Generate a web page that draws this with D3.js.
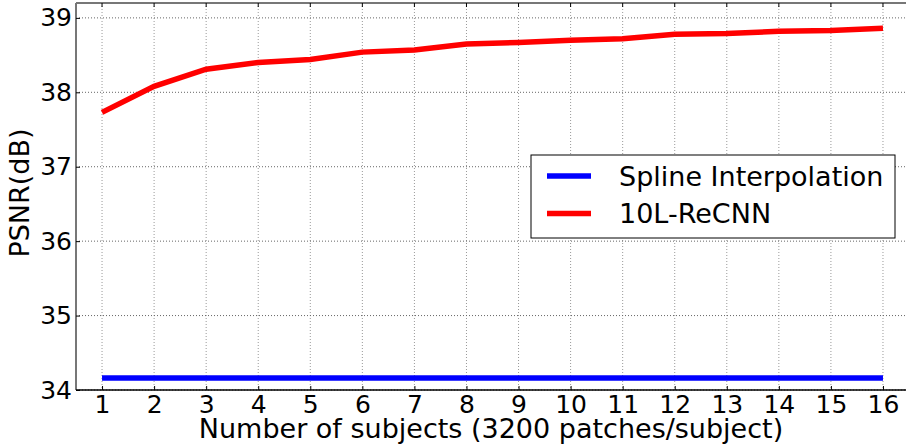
<!DOCTYPE html>
<html>
<head>
<meta charset="utf-8">
<script src="https://cdn.jsdelivr.net/npm/d3@7"></script>
<style>
  body { margin: 0; background: #fff; }
  svg { display: block; font-family: "DejaVu Sans", sans-serif; }
</style>
</head>
<body>
<div id="chart"></div>
<script>
// data
const subjects = [1, 2, 3, 4, 5, 6, 7, 8, 9, 10, 11, 12, 13, 14, 15, 16];
const splinePSNR = [34.16, 34.16, 34.16, 34.16, 34.16, 34.16, 34.16, 34.16,
                    34.16, 34.16, 34.16, 34.16, 34.16, 34.16, 34.16, 34.16];
const recnnPSNR = [37.73, 38.08, 38.31, 38.40, 38.44, 38.54, 38.57, 38.65,
                   38.67, 38.70, 38.72, 38.78, 38.79, 38.82, 38.83, 38.86];
const yTicks = [34, 35, 36, 37, 38, 39];
const seriesNames = ["Spline Interpolation", "10L-ReCNN"];
const seriesColors = ["#0000ff", "#ff0000"];

const W = 906, H = 447;
const margin = {top: 3, left: 76, bottom: 57};
const plotW = 833, plotH = H - margin.top - margin.bottom;

const svg = d3.select("#chart").append("svg")
  .attr("width", W).attr("height", H);

const x = d3.scaleLinear().domain([0.5, 16.5]).range([margin.left, margin.left + plotW]);
const y = d3.scaleLinear().domain([34, 39.2]).range([margin.top + plotH, margin.top]);

const g = svg.append("g");

// grid
g.selectAll(".vgrid").data(subjects).join("line")
  .attr("x1", d => x(d)).attr("x2", d => x(d))
  .attr("y1", y.range()[1]).attr("y2", y.range()[0])
  .attr("stroke", "#999").attr("stroke-width", 1)
  .attr("stroke-dasharray", "1,2");
g.selectAll(".hgrid").data(yTicks).join("line")
  .attr("x1", x.range()[0]).attr("x2", x.range()[1])
  .attr("y1", d => y(d)).attr("y2", d => y(d))
  .attr("stroke", "#666").attr("stroke-width", 1)
  .attr("stroke-dasharray", "1,2");

// lines
const line = d3.line().x((d, i) => x(subjects[i])).y(d => y(d));
[splinePSNR, recnnPSNR].forEach((s, k) => {
  g.append("path").datum(s)
    .attr("d", line)
    .attr("fill", "none")
    .attr("stroke", seriesColors[k])
    .attr("stroke-width", 5.5);
});

// spines
const x0 = x.range()[0], x1 = x.range()[1], yb = y.range()[0], yt = y.range()[1];
g.append("line").attr("x1", x0).attr("x2", x0).attr("y1", yt).attr("y2", yb)
  .attr("stroke", "#777").attr("stroke-width", 2);
g.append("line").attr("x1", x0).attr("x2", x1).attr("y1", yt).attr("y2", yt)
  .attr("stroke", "#777").attr("stroke-width", 2);
g.append("line").attr("x1", x0).attr("x2", x1).attr("y1", yb).attr("y2", yb)
  .attr("stroke", "#000").attr("stroke-width", 1.3);

// axes (ticks inward, labels outside)
const xAxis = g.append("g").attr("transform", `translate(0,${yb})`)
  .call(d3.axisBottom(x).tickValues(subjects).tickFormat(d3.format("d"))
    .tickSizeInner(-4).tickSizeOuter(0).tickPadding(5));
const yAxis = g.append("g").attr("transform", `translate(${x0},0)`)
  .call(d3.axisLeft(y).tickValues(yTicks).tickFormat(d3.format("d"))
    .tickSizeInner(-4).tickSizeOuter(0).tickPadding(4));
[xAxis, yAxis].forEach(a => {
  a.select(".domain").remove();
  a.selectAll("text").attr("font-size", 25).attr("fill", "#000")
    .attr("font-family", "DejaVu Sans");
  a.selectAll(".tick line").attr("stroke", "#000");
});
// top ticks
g.selectAll(".toptick").data(subjects).join("line")
  .attr("x1", d => x(d)).attr("x2", d => x(d))
  .attr("y1", yt).attr("y2", yt + 4).attr("stroke", "#000");

// axis labels
svg.append("text").attr("x", 491).attr("y", 438)
  .attr("text-anchor", "middle").attr("font-size", 27)
  .text("Number of subjects (3200 patches/subject)");
svg.append("text").attr("transform", "translate(29,193) rotate(-90)")
  .attr("text-anchor", "middle").attr("font-size", 27)
  .text("PSNR(dB)");

// legend
const lg = svg.append("g").attr("transform", "translate(531,155)");
lg.append("rect").attr("x", 0).attr("y", 0).attr("width", 364).attr("height", 83)
  .attr("fill", "#fff").attr("stroke", "#000").attr("stroke-width", 1);
seriesNames.forEach((name, i) => {
  const ly = 21 + i * 37.5;
  lg.append("line").attr("x1", 16).attr("x2", 60).attr("y1", ly).attr("y2", ly)
    .attr("stroke", seriesColors[i]).attr("stroke-width", 5.5);
  lg.append("text").attr("x", 88).attr("y", ly).attr("dy", "0.36em")
    .attr("font-size", 27).text(name);
});
</script>
</body>
</html>
